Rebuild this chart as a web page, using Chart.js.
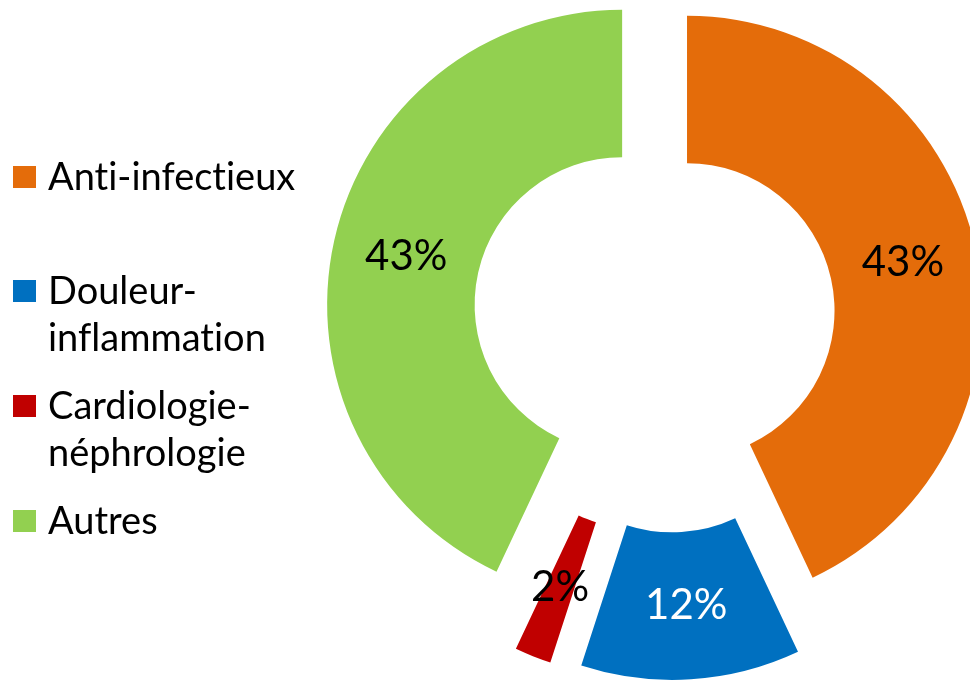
<!DOCTYPE html>
<html lang="fr">
<head>
<meta charset="utf-8">
<title>Classes thérapeutiques</title>
<script src="https://cdn.jsdelivr.net/npm/chart.js@4.4.1/dist/chart.umd.min.js"></script>
<style>
  html, body { margin: 0; padding: 0; background: #fff; }
  #zone { position: relative; width: 970px; height: 681px; overflow: hidden; }
  #zone canvas { position: absolute; left: 0; top: 0; }
  #legende {
    position: absolute; left: 13px; top: 0;
    font-family: Lato, sans-serif; font-size: 38px; color: #000;
    font-variant-ligatures: none; font-feature-settings: "liga" 0, "clig" 0, "dlig" 0;
  }
  .item { position: absolute; left: 0; white-space: nowrap; line-height: 47px; }
  .carre { position: absolute; left: 0; top: 12px; width: 23px; height: 22px; }
  .texte { position: absolute; left: 35px; top: -2px; }
</style>
</head>
<body>
<div id="zone">
  <canvas id="graphique"></canvas>
  <div id="legende"></div>
</div>
<script>
const categories = ['Anti-infectieux', 'Douleur-inflammation', 'Cardiologie-néphrologie', 'Autres'];
const lignesLegende = [['Anti-infectieux'], ['Douleur-', 'inflammation'], ['Cardiologie-', 'néphrologie'], ['Autres']];
const valeurs = [43, 12, 2, 43];

const couleurs = ['#E46C0A', '#0070C0', '#C00000', '#92D050'];
const couleursTexte = ['#000', '#fff', '#000', '#000'];
// décalage de chaque part vers l'extérieur, en pixels
const eclatement = [19.5, 70, 72, 47];

function construireLegende() {
  const box = document.getElementById('legende');
  lignesLegende.forEach((lignes, i) => {
    const item = document.createElement('div');
    item.className = 'item';
    item.style.top = (177 + i * 114.7 - 23.5) + 'px';
    item.innerHTML = `<span class="carre" style="background:${couleurs[i]}"></span>`
      + `<span class="texte">${lignes.join('<br>')}</span>`;
    box.appendChild(item);
  });
}

const partsEclatees = {
  id: 'partsEclatees',
  beforeDatasetDraw(chart, args) {
    const ctx = chart.ctx;
    const arcs = args.meta.data;
    const total = valeurs.reduce((a, b) => a + b, 0);

    arcs.forEach((arc, i) => {
      const mid = (arc.startAngle + arc.endAngle) / 2;
      ctx.save();
      ctx.translate(Math.cos(mid) * eclatement[i], Math.sin(mid) * eclatement[i]);
      arc.draw(ctx);
      ctx.restore();
    });

    ctx.save();
    ctx.font = '42px Lato, sans-serif';
    ctx.textAlign = 'center';
    ctx.textBaseline = 'middle';
    arcs.forEach((arc, i) => {
      const mid = (arc.startAngle + arc.endAngle) / 2;
      const p = arc.tooltipPosition();
      ctx.fillStyle = couleursTexte[i];
      ctx.fillText(Math.round(valeurs[i] / total * 100) + '%',
        p.x + Math.cos(mid) * eclatement[i], p.y + Math.sin(mid) * eclatement[i]);
    });
    ctx.restore();
    return false;
  },
};

document.addEventListener('DOMContentLoaded', () => {
  construireLegende();

  const canvas = document.getElementById('graphique');
  canvas.width = 970;
  canvas.height = 681;

  new Chart(canvas.getContext('2d'), {
    type: 'doughnut',
    data: {
      labels: categories,
      datasets: [{
        data: valeurs,
        backgroundColor: couleurs,
        borderWidth: 0,
        hoverOffset: 0,
      }],
    },
    options: {
      responsive: false,
      animation: false,
      events: [],
      radius: 295,
      cutout: '50%',
      layout: { padding: { left: 366, right: 0, top: 0, bottom: 51 } },
      plugins: {
        legend: { display: false },
        tooltip: { enabled: false },
      },
    },
    plugins: [partsEclatees],
  });
});
</script>
</body>
</html>
